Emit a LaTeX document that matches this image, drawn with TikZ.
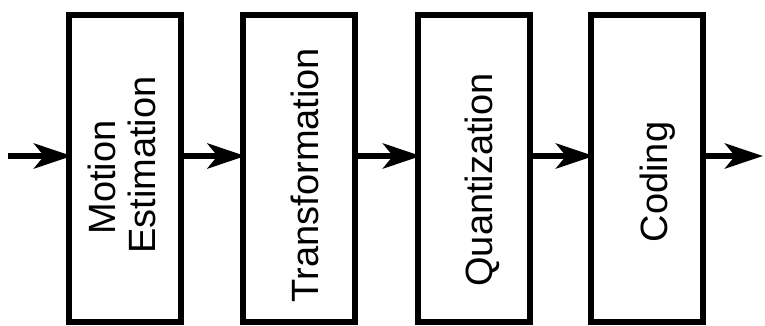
\documentclass[tikz,border=0pt]{standalone}
\usepackage{fontspec}
\setmainfont{Liberation Sans}
\usetikzlibrary{arrows.meta}
\begin{document}
\begin{tikzpicture}[x=1pt,y=-1pt,
  blk/.style={draw, line width=6pt, rectangle, outer sep=0pt, minimum width=112pt, minimum height=307pt, inner sep=0pt},
  lbl/.style={rotate=90, anchor=base, inner sep=0pt, font=\fontsize{38}{40}\selectfont, align=center},
  arr/.style={line width=6pt, -{Stealth[length=38pt,width=25pt,inset=10pt]}, shorten >=-3pt}]
\useasboundingbox (0,0) rectangle (765,326);
\node[blk] (b1) at (125,168.5) {};
\node[blk] (b2) at (298.5,168.5) {};
\node[blk] (b3) at (474,168.5) {};
\node[blk] (b4) at (647,168.5) {};
\node[lbl] (t1) at (155,165) {Motion\kern25pt\\Estimation};
\node[lbl] (t2) at (318,175) {Transformation};
\node[lbl] (t3) at (492,180) {Quantization};
\node[lbl] (t4) at (667,182) {Coding};
\coordinate (in) at (8,156);
\coordinate (out) at (763,156);
\draw[arr] (in) -- (in -| b1.west);
\draw[arr] (b1.east |- in) -- (b2.west |- in);
\draw[arr] (b2.east |- in) -- (b3.west |- in);
\draw[arr] (b3.east |- in) -- (b4.west |- in);
\draw[arr, shorten >=0pt] (b4.east |- in) -- (out);
\end{tikzpicture}
\end{document}
